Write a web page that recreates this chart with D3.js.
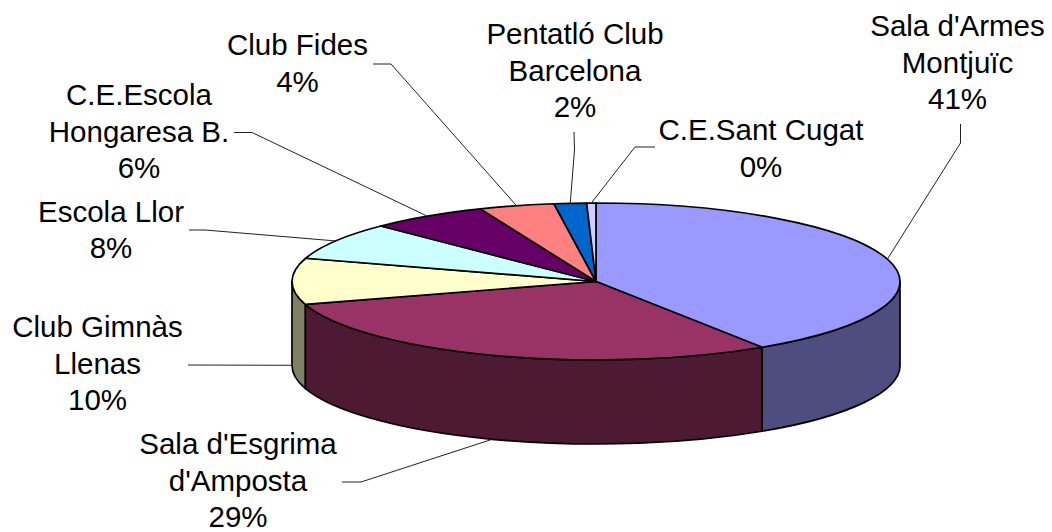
<!DOCTYPE html>
<html><head><meta charset="utf-8">
<script src="https://cdn.jsdelivr.net/npm/d3@7/dist/d3.min.js"></script>
<style>html,body{margin:0;padding:0;background:#fff}svg{display:block}</style>
</head><body><svg id="c" width="1052" height="532"></svg>
<script>
const categories = ["Sala d'Armes Montjuïc","Sala d'Esgrima d'Amposta","Club Gimnàs Llenas","Escola Llor","C.E.Escola Hongaresa B.","Club Fides","Pentatló Club Barcelona","C.E.Sant Cugat"];
const values = [40.8,29.49,9.5,7.7,6.3,4.0,1.72,0.49];
const topColors = ["#9999ff","#993366","#ffffcc","#ccffff","#660066","#ff8080","#0066cc","#ccccff"];
const sideColors = ["#4d4d80","#4d1933","#808066","#668080","#330033","#804040","#003366","#666680"];
const labelLines = [["Sala d'Armes","Montjuïc"],["Sala d'Esgrima","d'Amposta"],["Club Gimnàs","Llenas"],["Escola Llor"],["C.E.Escola","Hongaresa B."],["Club Fides"],["Pentatló Club","Barcelona"],["C.E.Sant Cugat"]];
const labelX = [957.5,238,97.5,111,139,297.5,575,761];
const labelBase = [36,454,337,221.5,105,55,44,140];
const leaderPts = [[[960.5,124],[960.5,143]],[[342,482],[361,482]],[[188,365]],[[189,230],[205,230]],[[234,132.5],[252,132.5]],[[373,64],[391,64]],[[574,132],[574.5,150]],[[655,147],[635,147]]];

const cx=596, cy=281.5, rx=304, ry=78.5, depth=84, lh=36.6, fs=29.5;
const sx=d3.scaleLinear().domain([-1,1]).range([cx-rx,cx+rx]);
const sy=d3.scaleLinear().domain([-1,1]).range([cy-ry,cy+ry]);
const px=a=>sx(Math.sin(a)), py=a=>sy(-Math.cos(a));
const arcs=d3.pie().sort(null).value(d=>d)(values);
const svg=d3.select("#c");
const pct=d3.sum(values);

// sides (front half only)
const q1=Math.PI/2,q3=3*Math.PI/2;
const sides=arcs.map((d,i)=>({i,a0:Math.max(d.startAngle,q1),a1:Math.min(d.endAngle,q3)})).filter(d=>d.a1>d.a0);
svg.append("g").selectAll("path").data(sides).join("path")
 .attr("d",d=>{const large=(d.a1-d.a0)>Math.PI?1:0;
   return `M${px(d.a0)},${py(d.a0)}A${rx},${ry} 0 ${large} 1 ${px(d.a1)},${py(d.a1)}L${px(d.a1)},${py(d.a1)+depth}A${rx},${ry} 0 ${large} 0 ${px(d.a0)},${py(d.a0)+depth}Z`;})
 .attr("fill",d=>sideColors[d.i]).attr("stroke","#000").attr("stroke-width",1.7).attr("stroke-linejoin","round");
// top
svg.append("g").selectAll("path").data(arcs).join("path")
 .attr("d",d=>{const large=(d.endAngle-d.startAngle)>Math.PI?1:0;
   return `M${cx},${cy}L${px(d.startAngle)},${py(d.startAngle)}A${rx},${ry} 0 ${large} 1 ${px(d.endAngle)},${py(d.endAngle)}Z`;})
 .attr("fill",(d,i)=>topColors[i]).attr("stroke","#000").attr("stroke-width",1.7).attr("stroke-linejoin","round");
// leaders
const line=d3.line();
svg.append("g").selectAll("path").data(arcs).join("path")
 .attr("d",(d,i)=>{const m=(d.startAngle+d.endAngle)/2;
   const drop=Math.cos(m)<=0.01?depth:0;
   return line([...leaderPts[i],[px(m),py(m)+drop]]);})
 .attr("fill","none").attr("stroke","#222").attr("stroke-width",1);
// labels
const g=svg.append("g").attr("font-family","'Liberation Sans',Arial,sans-serif").attr("font-size",fs).attr("fill","#000").attr("text-anchor","middle");
categories.forEach((c,i)=>{
  const lines=[...labelLines[i],Math.round(values[i]/pct*100)+"%"];
  lines.forEach((t,j)=>g.append("text").attr("x",labelX[i]).attr("y",labelBase[i]+j*lh).text(t));
});
</script></body></html>
